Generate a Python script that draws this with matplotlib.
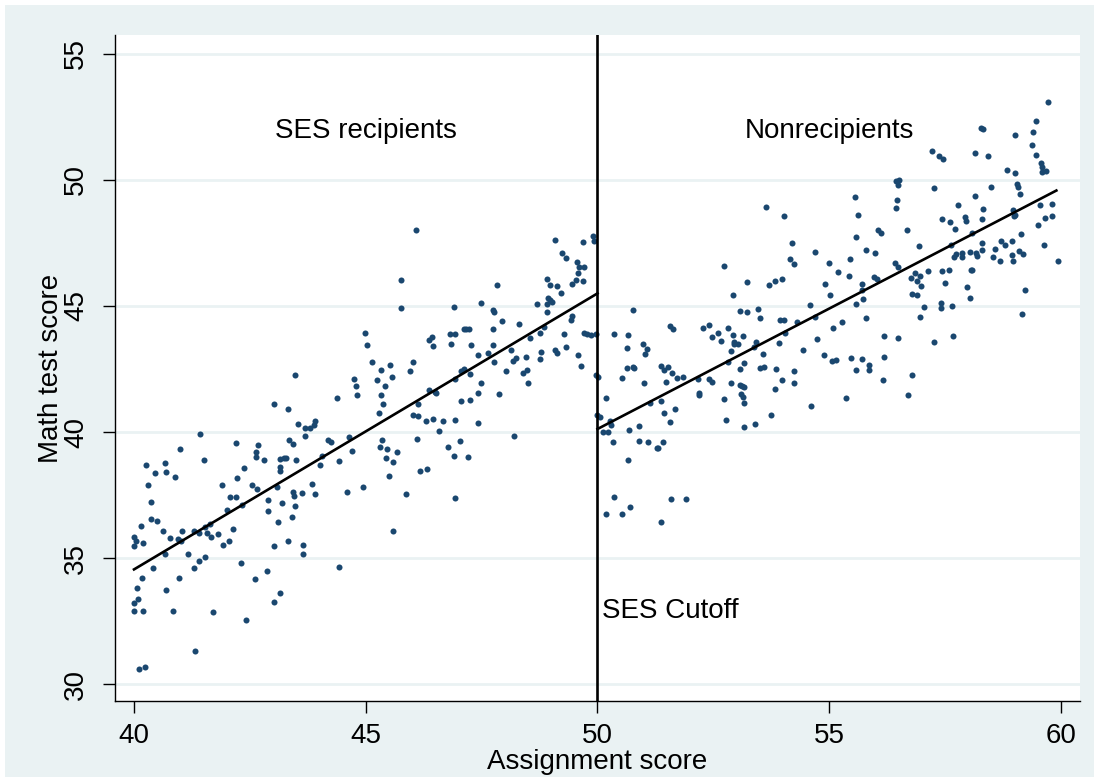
import matplotlib.pyplot as plt
from matplotlib.patches import Rectangle

plt.rcParams['font.family'] = ['Liberation Sans', 'DejaVu Sans']

# SES recipients (assignment score below 50)
x_recip = [41.43, 42.19, 41.00, 41.50, 40.26, 40.67, 40.45, 40.68, 40.89, 42.37, 40.30, 42.22,
           41.90, 40.37, 42.07, 42.19, 42.33, 42.00, 40.37, 40.50, 40.15, 40.01, 40.04, 40.00,
           40.20, 40.63, 40.78, 41.04, 40.94, 41.01, 41.30, 41.40, 41.53, 41.57, 41.63, 41.66,
           41.81, 42.13, 42.06, 41.93, 40.66, 41.16, 41.53, 41.40, 41.30, 42.30, 40.40, 40.18,
           40.97, 40.06, 40.68, 40.09, 40.00, 40.01, 40.20, 40.85, 41.71, 42.41, 41.32, 40.23,
           40.11,
           43.47, 44.74, 44.80, 44.81, 44.39, 43.03, 43.33, 43.54, 43.91, 43.88, 43.79, 43.68,
           43.69, 43.34, 43.44, 44.18, 44.24, 44.64, 44.70, 42.67, 42.63, 42.63, 42.81, 43.15,
           43.24, 43.29, 43.50, 43.14, 43.16, 44.06, 44.02, 44.43, 42.55, 42.65, 43.08, 43.85,
           44.94, 42.89, 43.20, 43.42, 43.45, 43.62, 43.91, 43.47, 44.60, 42.89, 43.11, 43.40,
           43.32, 43.01, 43.65, 43.65, 44.43, 42.86, 42.60, 43.14, 43.03,
           46.08, 45.77, 45.77, 46.90, 44.98, 45.03, 45.14, 45.33, 45.52, 45.57, 45.25, 45.42,
           45.33, 45.38, 45.29, 46.02, 45.96, 46.36, 46.44, 46.45, 46.81, 46.92, 46.84, 47.11,
           47.17, 47.23, 47.26, 46.36, 46.50, 46.52, 46.93, 47.05, 47.11, 47.24, 47.06, 47.25,
           46.13, 46.02, 46.13, 46.31, 46.45, 46.67, 46.93, 46.59, 45.34, 45.30, 45.45, 45.44,
           45.58, 45.68, 46.11, 45.50, 46.18, 46.32, 46.78, 46.90, 47.04, 47.20, 45.87, 46.92,
           45.59,
           47.48, 49.08, 49.68, 49.90, 49.93, 49.24, 49.32, 49.56, 49.60, 49.71, 49.59, 49.68,
           49.54, 49.46, 48.91, 48.98, 49.13, 49.21, 47.84, 48.93, 48.98, 49.02, 48.91, 48.69,
           48.91, 47.75, 47.77, 47.93, 47.74, 48.31, 49.46, 49.43, 48.85, 48.75, 48.55, 49.28,
           49.71, 49.77, 49.85, 49.97, 47.74, 47.64, 47.42, 48.13, 47.77, 48.24, 48.18, 48.45,
           48.75, 48.78, 49.09, 49.13, 49.33, 49.59, 49.65, 48.03, 48.48, 48.40, 48.49, 47.49,
           47.42, 47.88, 49.96, 47.42, 48.20]
y_recip = [39.91, 39.56, 39.34, 38.89, 38.69, 38.78, 38.36, 38.41, 38.20, 38.56, 37.90, 38.16,
           37.90, 37.22, 37.41, 37.41, 37.10, 36.89, 36.56, 36.48, 36.26, 35.83, 35.66, 35.49,
           35.58, 36.08, 35.78, 36.06, 35.74, 35.69, 36.07, 35.98, 36.23, 36.01, 36.34, 35.85,
           35.97, 36.14, 35.69, 35.53, 35.16, 35.16, 35.04, 34.87, 34.62, 34.80, 34.59, 34.19,
           34.22, 33.81, 33.73, 33.39, 33.21, 32.91, 32.91, 32.91, 32.88, 32.55, 31.30, 30.66,
           30.58,
           42.26, 42.09, 41.81, 41.47, 41.34, 41.10, 40.93, 40.30, 40.45, 40.26, 40.15, 40.15,
           39.84, 39.67, 39.51, 39.67, 39.59, 39.81, 39.26, 39.47, 39.22, 39.02, 38.89, 38.92,
           38.98, 38.97, 38.89, 38.60, 38.47, 39.06, 38.70, 38.86, 37.90, 37.74, 37.82, 37.92,
           37.83, 37.30, 37.17, 37.62, 37.46, 37.59, 37.54, 37.06, 37.61, 36.87, 36.42, 36.61,
           35.69, 35.46, 35.50, 35.16, 34.63, 34.50, 34.15, 33.62, 33.24,
           48.02, 46.03, 44.93, 44.97, 43.94, 43.45, 42.76, 42.47, 42.67, 42.18, 42.08, 41.83,
           41.46, 41.12, 40.77, 42.78, 42.42, 43.66, 43.76, 43.40, 43.90, 43.90, 43.49, 44.07,
           44.08, 44.08, 43.47, 41.65, 41.60, 41.56, 42.09, 42.42, 42.49, 42.31, 41.22, 41.28,
           41.10, 40.66, 40.62, 40.42, 40.53, 40.42, 40.46, 40.05, 39.70, 39.42, 39.31, 38.97,
           38.81, 39.22, 39.72, 38.25, 38.47, 38.55, 39.40, 39.04, 39.63, 39.02, 37.55, 37.39,
           36.08,
           45.13, 47.62, 47.52, 47.79, 47.59, 47.10, 46.89, 46.73, 46.56, 46.56, 46.30, 45.98,
           46.02, 45.86, 46.08, 45.83, 45.81, 45.53, 45.83, 45.33, 45.25, 45.15, 45.07, 45.07,
           44.76, 44.83, 44.75, 44.39, 44.09, 44.27, 44.62, 44.43, 44.15, 43.93, 43.74, 43.90,
           43.93, 43.90, 43.84, 43.89, 43.45, 43.15, 43.04, 43.24, 42.76, 42.94, 42.83, 42.98,
           42.91, 43.16, 43.24, 43.13, 43.39, 43.07, 42.63, 42.43, 42.45, 42.35, 41.93, 41.93,
           41.54, 41.52, 42.25, 40.37, 39.84]

# Nonrecipients (assignment score 50 and above)
x_nonrecip = [50.02, 50.00, 50.05,
              50.77, 50.35, 50.66, 50.64, 50.99, 51.06, 51.02, 51.57, 51.63, 52.28, 52.41, 52.47,
              50.64, 50.76, 50.79, 50.53, 51.00, 51.38, 51.44, 51.52, 51.61, 51.47, 51.71, 51.84,
              52.16, 52.41, 52.48, 52.18, 52.19, 50.18, 51.38, 51.13, 51.68, 51.44, 50.28, 50.29,
              50.89, 50.67, 51.57, 50.11, 50.22, 50.34, 50.90, 51.09, 51.28, 51.31, 51.41, 50.66,
              50.35, 50.70, 51.59, 51.92, 50.19, 50.52, 51.36,
              53.64, 54.03, 54.20, 54.69, 54.15, 54.23, 54.99, 52.72, 53.22, 53.69, 53.83, 53.99,
              54.90, 55.02, 52.92, 54.59, 53.07, 53.22, 53.46, 53.51, 53.93, 54.02, 54.30, 54.69,
              55.09, 52.82, 52.59, 52.92, 53.13, 52.67, 52.94, 52.95, 53.03, 53.42, 54.05, 53.92,
              52.87, 53.37, 54.73, 54.43, 53.57, 54.89, 55.05, 52.82, 53.15, 53.08, 53.51, 53.60,
              53.85, 54.25, 52.87, 53.08, 53.11, 53.15, 53.97, 54.25, 53.83, 53.09, 53.14, 53.16,
              52.72, 54.61, 53.74, 52.78, 53.16, 53.39,
              57.22, 57.36, 57.46, 56.43, 56.51, 56.48, 57.25, 55.56, 56.47, 56.43, 55.63, 57.43,
              57.61, 56.06, 56.11, 56.68, 55.57, 56.93, 55.80, 55.99, 55.45, 56.42, 56.49, 57.63,
              57.70, 57.73, 55.18, 55.43, 55.70, 55.96, 56.04, 56.77, 56.86, 56.95, 56.89, 56.98,
              57.12, 57.44, 57.58, 57.50, 55.70, 55.72, 55.58, 56.79, 56.89, 57.04, 56.96, 57.41,
              57.41, 57.64, 55.28, 55.79, 55.15, 56.19, 56.48, 57.27, 57.68, 55.47, 55.71, 56.19,
              55.58, 55.85, 55.85, 56.17, 56.79, 56.69, 55.37,
              59.73, 59.45, 59.39, 59.38, 59.45, 59.57, 59.59, 59.60, 59.68, 58.28, 58.32, 59.01,
              58.15, 58.43, 58.83, 59.01, 58.50, 59.05, 59.08, 59.12, 58.15, 57.78, 57.71, 58.31,
              58.30, 57.93, 57.96, 58.97, 58.98, 59.01, 59.54, 59.80, 59.65, 59.81, 59.50, 58.08,
              59.14, 58.30, 58.30, 58.70, 58.79, 58.95, 58.58, 59.10, 59.19, 59.63, 57.87, 57.87,
              58.04, 58.17, 58.19, 58.54, 58.69, 58.95, 58.97, 59.93, 58.06, 58.09, 57.97, 58.04,
              59.22, 59.15]
y_nonrecip = [42.17, 40.66, 40.60,
              44.86, 43.89, 43.86, 43.32, 43.49, 43.29, 43.08, 44.22, 44.09, 44.11, 44.23, 43.76,
              42.53, 42.58, 42.55, 42.16, 41.94, 42.62, 42.45, 42.57, 42.33, 41.97, 42.13, 42.20,
              42.09, 42.09, 41.97, 41.55, 41.47, 41.35, 41.24, 41.16, 40.93, 40.74, 40.45, 40.29,
              40.24, 40.07, 40.39, 39.99, 40.01, 39.62, 39.64, 39.59, 39.37, 39.37, 39.62, 38.89,
              37.41, 37.01, 37.33, 37.33, 36.73, 36.73, 36.42,
              48.94, 48.57, 47.51, 47.14, 46.88, 46.67, 46.69, 46.59, 45.95, 45.83, 46.00, 46.08,
              45.89, 45.44, 45.44, 45.03, 44.81, 44.78, 44.88, 44.51, 44.44, 44.43, 44.37, 44.56,
              44.11, 44.13, 43.93, 43.84, 43.81, 43.62, 43.58, 43.49, 43.50, 43.59, 43.93, 43.54,
              43.20, 43.36, 43.68, 43.27, 43.08, 43.04, 42.80, 42.79, 42.72, 42.49, 42.53, 42.59,
              42.51, 42.43, 41.94, 41.85, 41.84, 41.77, 42.06, 41.94, 41.69, 41.49, 41.39, 41.15,
              41.31, 41.02, 40.67, 40.46, 40.20, 40.32,
              51.15, 50.96, 50.85, 49.95, 50.01, 49.80, 49.70, 49.34, 49.19, 48.90, 48.61, 48.47,
              48.33, 48.02, 47.91, 48.02, 47.72, 47.37, 47.22, 47.12, 46.85, 46.71, 46.56, 47.41,
              46.96, 47.06, 46.34, 46.20, 45.89, 46.15, 46.09, 46.12, 46.31, 46.18, 45.98, 45.81,
              46.39, 46.39, 46.42, 45.93, 45.65, 45.28, 45.08, 45.49, 45.44, 44.95, 44.58, 45.12,
              44.91, 45.01, 44.38, 44.52, 42.84, 43.80, 43.73, 43.57, 43.80, 42.95, 42.91, 42.98,
              42.46, 42.67, 42.45, 42.06, 42.25, 41.47, 41.36,
              53.11, 52.35, 51.89, 51.38, 50.98, 50.66, 50.50, 50.33, 50.34, 52.05, 52.02, 51.77,
              51.07, 50.94, 50.40, 50.29, 49.71, 49.82, 49.74, 49.46, 49.35, 48.99, 48.06, 48.86,
              48.45, 48.52, 48.36, 48.80, 48.56, 48.60, 49.01, 49.04, 48.49, 48.57, 48.23, 47.91,
              47.84, 47.51, 47.24, 47.58, 47.41, 47.57, 47.28, 47.17, 47.08, 47.43, 47.12, 46.93,
              47.16, 47.09, 47.00, 46.94, 46.80, 47.01, 46.80, 46.80, 46.41, 46.44, 45.75, 45.32,
              45.63, 44.68]

# fitted lines (start and end of each segment)
fit_left_x = [40.0, 50.0]
fit_left_y = [34.55, 45.5]
fit_right_x = [50.0, 59.9]
fit_right_y = [40.12, 49.58]

cutoff = 50
xticks = [40, 45, 50, 55, 60]
yticks = [30, 35, 40, 45, 50, 55]

bg = '#eaf2f3'
navy = '#1a476f'

fig = plt.figure(figsize=(10.99, 7.82), dpi=100, facecolor='white')
fig.patches.append(Rectangle((5 / 1099, 5 / 782), 1 - 10 / 1099, 1 - 10 / 782,
                             transform=fig.transFigure, facecolor=bg, edgecolor='none', zorder=-1))
ax = fig.add_axes([115 / 1099, (782 - 701) / 782, (1080 - 115) / 1099, (701 - 35) / 782])
ax.set_facecolor('white')

for yt in yticks:
    ax.axhline(yt, color=bg, lw=2, zorder=0)

ax.scatter(x_recip, y_recip, s=19, color=navy, linewidths=0, zorder=2)
ax.scatter(x_nonrecip, y_nonrecip, s=19, color=navy, linewidths=0, zorder=2)
ax.plot(fit_left_x, fit_left_y, color='black', lw=1.9, zorder=3)
ax.plot(fit_right_x, fit_right_y, color='black', lw=1.9, zorder=3)
ax.axvline(cutoff, color='black', lw=1.9, zorder=3)

ax.text(45, 51.95, 'SES recipients', ha='center', va='center', fontsize=20)
ax.text(55, 51.95, 'Nonrecipients', ha='center', va='center', fontsize=20)
ax.text(50.1, 32.9, 'SES Cutoff', ha='left', va='center', fontsize=20)

ax.set_xlim(39.59, 60.41)
ax.set_ylim(29.33, 55.75)
ax.set_xticks(xticks)
ax.set_yticks(yticks)
ax.tick_params(axis='both', labelsize=20, length=8.5, width=1, color='black')
ax.tick_params(axis='x', pad=7)
ax.tick_params(axis='y', labelrotation=90, pad=10)
for lab in ax.get_yticklabels():
    lab.set_va('center')

for side in ['top', 'right']:
    ax.spines[side].set_visible(False)
ax.spines['left'].set_linewidth(1)
ax.spines['bottom'].set_linewidth(1)

ax.set_xlabel('Assignment score', fontsize=20, labelpad=0)
ax.set_ylabel('Math test score', fontsize=20)
ax.yaxis.set_label_coords((64 - 115) / 965, 0.5)

plt.savefig('out.png', dpi=100, facecolor=fig.get_facecolor())
